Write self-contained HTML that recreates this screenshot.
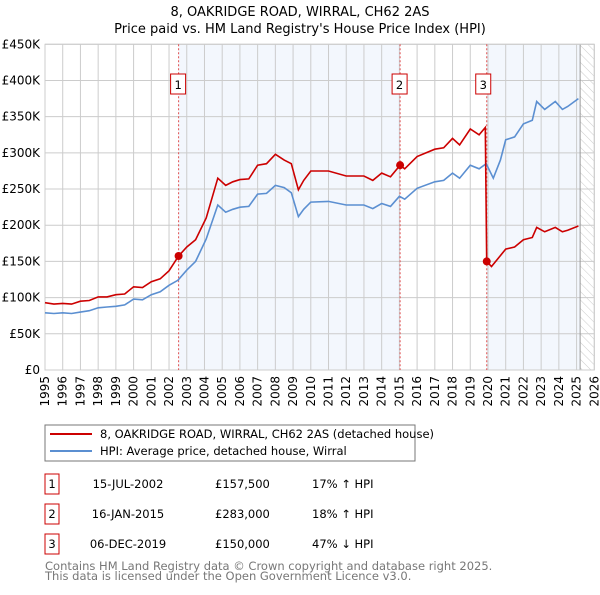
<!DOCTYPE html>
<html><head><meta charset="utf-8"><style>
body{margin:0;background:#fff;}
svg text{font-family:"DejaVu Sans","Liberation Sans",sans-serif;}
</style></head><body>
<svg id="c" width="600" height="590" xmlns="http://www.w3.org/2000/svg">
<text x="300" y="16" font-size="13" text-anchor="middle">8, OAKRIDGE ROAD, WIRRAL, CH62 2AS</text>
<text x="300" y="33" font-size="13" text-anchor="middle">Price paid vs. HM Land Registry's House Price Index (HPI)</text>
<defs><pattern id="hatch" width="6" height="6" patternUnits="userSpaceOnUse" patternTransform="rotate(-45)"><line x1="0" y1="0" x2="0" y2="6" stroke="#ccc" stroke-width="1"/></pattern></defs>
<g id="plot"></g>
<rect x="45" y="425" width="370" height="36" fill="none" stroke="#777"/>
<line x1="50" y1="434" x2="92" y2="434" stroke="#cc0000" stroke-width="2"/>
<text x="100" y="438" font-size="11.5">8, OAKRIDGE ROAD, WIRRAL, CH62 2AS (detached house)</text>
<line x1="50" y1="451" x2="92" y2="451" stroke="#5b8fd1" stroke-width="2"/>
<text x="100" y="455" font-size="11.5">HPI: Average price, detached house, Wirral</text>
<g id="table" font-size="11.5"></g>
<text x="45" y="570" font-size="11.5" fill="#777">Contains HM Land Registry data © Crown copyright and database right 2025.</text>
<text x="45" y="580" font-size="11.5" fill="#777">This data is licensed under the Open Government Licence v3.0.</text>
</svg>
<script>
const hpiYears=[1995,1995.5,1996,1996.5,1997,1997.5,1998,1998.5,1999,1999.5,2000,2000.5,2001,2001.5,2002,2002.5,2003,2003.5,2004.1,2004.75,2005.2,2005.6,2006,2006.5,2007,2007.5,2008,2008.5,2008.9,2009.3,2009.6,2010,2011,2012,2013,2013.5,2014,2014.5,2015,2015.3,2016,2017,2017.5,2018,2018.4,2019,2019.5,2019.9,2020.3,2020.7,2021,2021.5,2022,2022.5,2022.75,2023.2,2023.8,2024.2,2024.5,2025.1];
const hpiValues=[79,78,79,78,80,82,86,87,88,90,98,97,104,108,117,124,138,150,181,228,218,222,225,226,243,244,255,252,245,212,222,232,233,228,228,223,230,226,240,236,251,260,262,272,265,283,278,285,265,290,318,322,340,345,371,360,371,360,364,375];
const priceYears=[1995,1995.5,1996,1996.5,1997,1997.5,1998,1998.5,1999,1999.5,2000,2000.5,2001,2001.5,2002,2002.54,2003,2003.5,2004.1,2004.75,2005.2,2005.6,2006,2006.5,2007,2007.5,2008,2008.5,2008.9,2009.3,2009.6,2010,2011,2012,2013,2013.5,2014,2014.5,2015.04,2015.3,2016,2017,2017.5,2018,2018.4,2019,2019.5,2019.85,2019.93,2020.2,2020.7,2021,2021.5,2022,2022.5,2022.75,2023.2,2023.8,2024.2,2024.5,2025.1];
const priceValues=[93,91,92,91,95,96,101,101,104,105,115,114,122,126,137,157.5,170,180,210,265,255,260,263,264,283,285,298,290,285,249,262,275,275,268,268,262,272,267,283,278,295,305,307,320,311,333,325,335,150,143,158,167,170,180,183,197,191,197,191,193,199];
const saleYears=[2002.54,2015.04,2019.93];
const saleValues=[157.5,283,150];
const saleLabels=["1","2","3"];
const saleDates=["15-JUL-2002","16-JAN-2015","06-DEC-2019"];
const salePrices=["£157,500","£283,000","£150,000"];
const saleHpi=["17% ↑ HPI","18% ↑ HPI","47% ↓ HPI"];
const yTicks=[0,50,100,150,200,250,300,350,400,450];
const yTickLabels=["£0","£50K","£100K","£150K","£200K","£250K","£300K","£350K","£400K","£450K"];
const xTicks=[1995,1996,1997,1998,1999,2000,2001,2002,2003,2004,2005,2006,2007,2008,2009,2010,2011,2012,2013,2014,2015,2016,2017,2018,2019,2020,2021,2022,2023,2024,2025,2026];
const dataEnd=2025.2;

const NS="http://www.w3.org/2000/svg";
const X0=45,X1=594.3,Y0=370,Y1=44.3;
const x=v=>X0+(v-1995)/(2026-1995)*(X1-X0);
const y=v=>Y0-v/450*(Y0-Y1);
const plot=document.getElementById('plot');
function mk(tag,attrs,parent){const e=document.createElementNS(NS,tag);for(const k in attrs)e.setAttribute(k,attrs[k]);(parent||plot).appendChild(e);return e;}

// shading
let s=mk('rect',{x:x(saleYears[0]),y:Y1,width:x(saleYears[1])-x(saleYears[0]),height:Y0-Y1,fill:'#eef3fc',opacity:0.7});


s=mk('rect',{x:x(saleYears[2]),y:Y1,width:x(dataEnd)-x(saleYears[2]),height:Y0-Y1,fill:'#eef3fc',opacity:0.7});


s=mk('rect',{x:x(dataEnd),y:Y1,width:X1-x(dataEnd),height:Y0-Y1,fill:'url(#hatch)'});



// grid
xTicks.forEach(t=>{
  const l=mk('line',{x1:x(t),x2:x(t),y1:Y1,y2:Y0,stroke:'#ccc','stroke-width':1});
  
  
  const tx=mk('text',{x:0,y:0,'font-size':12,'text-anchor':'end',transform:`translate(${x(t)+4},${Y0+6}) rotate(-90)`});
  tx.textContent=t;
  
  
});
yTicks.forEach((t,i)=>{
  const l=mk('line',{x1:X0,x2:X1,y1:y(t),y2:y(t),stroke:'#ccc','stroke-width':1});
  
  
  const tx=mk('text',{x:X0-5,y:y(t)+4,'font-size':12,'text-anchor':'end'});
  tx.textContent=yTickLabels[i];
  
  
});
s=mk('line',{x1:x(dataEnd),x2:x(dataEnd),y1:Y1,y2:Y0,stroke:'#999','stroke-width':1});


s=mk('rect',{x:X0,y:Y1,width:X1-X0,height:Y0-Y1,fill:'none',stroke:'#ccc'});



// sale vlines + markers
saleYears.forEach((t,i)=>{
  const l=mk('line',{x1:x(t),x2:x(t),y1:Y1,y2:Y0,stroke:'#e05050','stroke-width':1,'stroke-dasharray':'2,2'});
  
  
  const b=mk('rect',{x:x(t)-8-(i==2?3:0),y:74,width:15,height:20,fill:'#fff',stroke:'#cc0000'});
  
  
  const tx=mk('text',{x:x(t)-0.5-(i==2?3:0),y:89,'font-size':11.5,'text-anchor':'middle'});
  tx.textContent=saleLabels[i];
  
  
});

function line(xs,vs,col,name){
  const p=mk('path',{d:xs.map((t,i)=>(i?'L':'M')+x(t).toFixed(1)+','+y(vs[i]).toFixed(1)).join(''),fill:'none',stroke:col,'stroke-width':1.6});
  
  
}
line(hpiYears,hpiValues,'#5b8fd1','hpi-line');
line(priceYears,priceValues,'#cc0000','price-line');
saleYears.forEach((t,i)=>{
  const c=mk('circle',{cx:x(t),cy:y(saleValues[i]),r:4,fill:'#cc0000'});
  
  
});

// table
const tb=document.getElementById('table');
saleLabels.forEach((lab,i)=>{
  const cy=483+i*30;
  const r=mk('rect',{x:45,y:cy-9,width:14,height:20,fill:'none',stroke:'#cc0000'},tb);
  
  
  const cells=[[52,lab,'middle'],[128,saleDates[i],'middle'],[215,salePrices[i],'start'],[312,saleHpi[i],'start']];
  cells.forEach((c,j)=>{
    const t=mk('text',{x:c[0],y:cy+5,'text-anchor':c[2]},tb);
    t.textContent=c[1];
    
    
  });
});
</script>
</body></html>
